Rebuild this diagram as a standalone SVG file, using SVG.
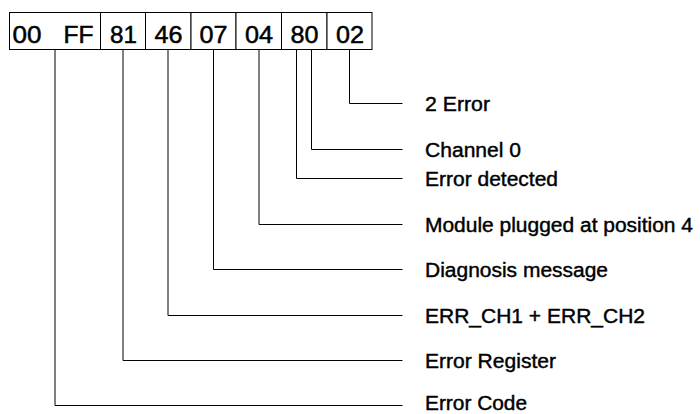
<svg xmlns="http://www.w3.org/2000/svg" width="700" height="414" viewBox="0 0 700 414">
<style>
.cell{fill:#fff;stroke:#000;stroke-width:1}
.hex{font-family:"Liberation Sans",Arial,sans-serif;font-size:24px;fill:#000;stroke:#000;stroke-width:0.5}
.lbl{font-family:"Liberation Sans",Arial,sans-serif;font-size:19.5px;fill:#000;stroke:#000;stroke-width:0.4}
.conn{fill:none;stroke:#000;stroke-width:1}
</style>
<rect width="700" height="414" fill="#fff"/>
<g id="bytes">
<rect class="cell" x="9.5" y="12.5" width="91" height="37"/>
<rect class="cell" x="100.5" y="12.5" width="45" height="37"/>
<rect class="cell" x="145.5" y="12.5" width="45.5" height="37"/>
<rect class="cell" x="191" y="12.5" width="45" height="37"/>
<rect class="cell" x="236" y="12.5" width="45.5" height="37"/>
<rect class="cell" x="281.5" y="12.5" width="45.5" height="37"/>
<rect class="cell" x="327" y="12.5" width="45" height="37"/>
<text class="hex" x="12.5" y="43" textLength="29" lengthAdjust="spacingAndGlyphs">00</text>
<text class="hex" x="63.5" y="43" textLength="30" lengthAdjust="spacingAndGlyphs">FF</text>
<text class="hex" x="110" y="43" textLength="27" lengthAdjust="spacingAndGlyphs">81</text>
<text class="hex" x="154.5" y="43" textLength="28" lengthAdjust="spacingAndGlyphs">46</text>
<text class="hex" x="199.5" y="43" textLength="28" lengthAdjust="spacingAndGlyphs">07</text>
<text class="hex" x="245" y="43" textLength="28" lengthAdjust="spacingAndGlyphs">04</text>
<text class="hex" x="290.5" y="43" textLength="28" lengthAdjust="spacingAndGlyphs">80</text>
<text class="hex" x="336" y="43" textLength="28" lengthAdjust="spacingAndGlyphs">02</text>
</g>
<g id="connectors">
<polyline class="conn" points="349.5,49.5 349.5,103.5 402.5,103.5"/>
<polyline class="conn" points="311.5,49.5 311.5,149.5 402.5,149.5"/>
<polyline class="conn" points="296.5,49.5 296.5,178.5 402.5,178.5"/>
<polyline class="conn" points="259,49.5 259,224.5 402.5,224.5"/>
<polyline class="conn" points="213.5,49.5 213.5,269.5 402.5,269.5"/>
<polyline class="conn" points="168,49.5 168,315.5 402.5,315.5"/>
<polyline class="conn" points="123,49.5 123,360.5 402.5,360.5"/>
<polyline class="conn" points="55,49.5 55,405.5 402.5,405.5"/>
</g>
<g id="label-2-error"><text class="lbl" x="425" y="110.7" textLength="65" lengthAdjust="spacingAndGlyphs">2 Error</text></g>
<g id="label-channel-0"><text class="lbl" x="425" y="156.5" textLength="96" lengthAdjust="spacingAndGlyphs">Channel 0</text></g>
<g id="label-error-detected"><text class="lbl" x="425" y="185.5" textLength="133" lengthAdjust="spacingAndGlyphs">Error detected</text></g>
<g id="label-module"><text class="lbl" x="425" y="231.5" textLength="268" lengthAdjust="spacingAndGlyphs">Module plugged at position 4</text></g>
<g id="label-diagnosis"><text class="lbl" x="425" y="277" textLength="183" lengthAdjust="spacingAndGlyphs">Diagnosis message</text></g>
<g id="label-err-ch"><text class="lbl" x="425" y="322.5" textLength="220" lengthAdjust="spacingAndGlyphs">ERR_CH1 + ERR_CH2</text></g>
<g id="label-error-register"><text class="lbl" x="425" y="367.5" textLength="131" lengthAdjust="spacingAndGlyphs">Error Register</text></g>
<g id="label-error-code"><text class="lbl" x="425" y="409.8" textLength="102" lengthAdjust="spacingAndGlyphs">Error Code</text></g>
</svg>
